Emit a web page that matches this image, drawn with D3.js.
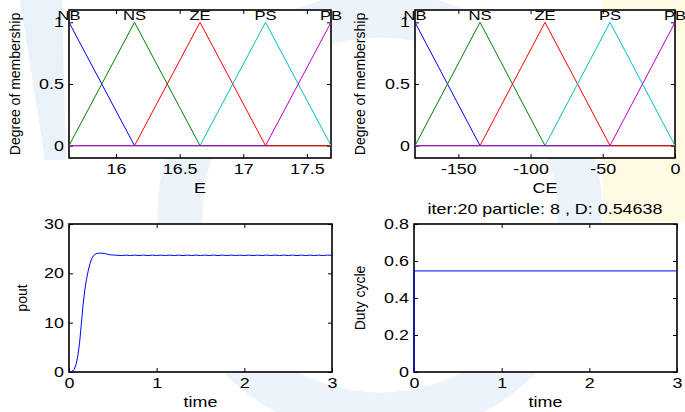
<!DOCTYPE html>
<html>
<head>
<meta charset="utf-8">
<script src="https://cdn.jsdelivr.net/npm/d3@7"></script>
<style>
body { margin: 0; background: #fff; }
svg text { font-family: "Liberation Sans", Arial, sans-serif; fill: #000; }
.axis text { font-size: 14px; }
.axis line { stroke: #000; }
</style>
</head>
<body>
<svg id="chart" width="685" height="412"></svg>
<script>
// ---- data ----
const termNames = ['NB', 'NS', 'ZE', 'PS', 'PB'];

// input E: range and triangle [a, b, c] of each term
const eRange = [15.63, 17.69];
const eTri = [
  [15.115, 15.63, 16.145],
  [15.63, 16.145, 16.66],
  [16.145, 16.66, 17.175],
  [16.66, 17.175, 17.69],
  [17.175, 17.69, 18.205]
];

// input CE
const ceRange = [-180, 0];
const ceTri = [
  [-225, -180, -135],
  [-180, -135, -90],
  [-135, -90, -45],
  [-90, -45, 0],
  [-45, 0, 45]
];

const eTicks = [16, 16.5, 17, 17.5];
const ceTicks = [-150, -100, -50, 0];
const mfTicks = [0, 0.5, 1];
const timeTicks = [0, 1, 2, 3];
const poutTicks = [0, 10, 20, 30];
const dutyTicks = [0, 0.2, 0.4, 0.6, 0.8];

// output power vs time
const poutTime = [0, 0.03, 0.06, 0.08, 0.10, 0.12, 0.14, 0.16, 0.18, 0.20,
  0.22, 0.24, 0.26, 0.28, 0.31, 0.35, 0.40, 0.43, 0.47, 0.52,
  0.60, 0.65, 0.70, 0.75, 0.80, 0.85, 0.90, 0.95, 1.00, 1.05,
  1.10, 1.15, 1.20, 1.25, 1.30, 1.35, 1.40, 1.45, 1.50, 1.55,
  1.60, 1.65, 1.70, 1.75, 1.80, 1.85, 1.90, 1.95, 2.00, 2.05,
  2.10, 2.15, 2.20, 2.25, 2.30, 2.35, 2.40, 2.45, 2.50, 2.55,
  2.60, 2.65, 2.70, 2.75, 2.80, 2.85, 2.90, 2.95, 3.00];
const poutVal = [0, 0.1, 0.5, 1.5, 3.2, 5.8, 9.6, 13.5, 16.6, 18.8,
  20.6, 22.0, 23.0, 23.6, 24.0, 24.1, 24.05, 23.9, 23.75, 23.7,
  23.6, 23.7, 23.6, 23.7, 23.6, 23.7, 23.6, 23.7, 23.6, 23.7,
  23.6, 23.7, 23.6, 23.7, 23.6, 23.7, 23.6, 23.7, 23.6, 23.7,
  23.6, 23.7, 23.6, 23.7, 23.6, 23.7, 23.6, 23.7, 23.6, 23.7,
  23.6, 23.7, 23.6, 23.7, 23.6, 23.7, 23.6, 23.7, 23.6, 23.7,
  23.6, 23.7, 23.6, 23.7, 23.6, 23.7, 23.6, 23.7, 23.65];

// duty cycle step
const dutyTime = [0, 0, 3];
const dutyVal = [0, 0.54638, 0.54638];
const dutyTitle = 'iter:20 particle: 8 , D: 0.54638';

// ---- drawing ----
const svg = d3.select('#chart');
const mfColors = ['#0000ff', '#008000', '#ff0000', '#00bfbf', '#bf00bf'];
const squash = 1.28; // matlab screen text is wide

// faint watermark behind the axes
const bg = svg.append('g');
bg.append('rect').attr('x', 603).attr('y', 0).attr('width', 82).attr('height', 222).attr('fill', '#fffbe3');
bg.append('circle').attr('cx', 380).attr('cy', 215).attr('r', 200)
  .attr('fill', 'none').attr('stroke', '#edf3fa').attr('stroke-width', 45);
bg.append('path').attr('d', 'M20,0 L62,0 L66,160 L45,160 Z').attr('fill', '#eaf2f9');

function wideText(g, x, y, str, size, anchor) {
  return g.append('text')
    .attr('transform', `translate(${x},${y}) scale(${squash},1)`)
    .attr('text-anchor', anchor || 'middle')
    .style('font-size', size + 'px')
    .text(str);
}

function vText(g, x, y, str) {
  return g.append('text')
    .attr('transform', `translate(${x},${y}) rotate(-90)`)
    .attr('text-anchor', 'middle')
    .style('font-size', '14px')
    .text(str);
}

function makePanel(box, xDom, yDom, xTicks, yTicks, xLabel, yLabel, yLabelX) {
  const g = svg.append('g');
  const x = d3.scaleLinear().domain(xDom).range([box.x0, box.x1]);
  const y = d3.scaleLinear().domain(yDom).range([box.y1, box.y0]);

  g.append('rect')
    .attr('x', box.x0).attr('y', box.y0)
    .attr('width', box.x1 - box.x0).attr('height', box.y1 - box.y0)
    .attr('fill', '#fff');

  const fmt = d => String(d); // plain hyphen minus like matlab
  const ax = g.append('g').attr('class', 'axis');
  ax.append('g').attr('transform', `translate(0,${box.y1})`)
    .call(d3.axisBottom(x).tickValues(xTicks).tickFormat(fmt).tickSizeInner(-4).tickSizeOuter(0).tickPadding(6));
  ax.append('g').attr('transform', `translate(0,${box.y0})`)
    .call(d3.axisTop(x).tickValues(xTicks).tickFormat('').tickSizeInner(-4).tickSizeOuter(0));
  ax.append('g').attr('transform', `translate(${box.x0},0)`)
    .call(d3.axisLeft(y).tickValues(yTicks).tickFormat(fmt).tickSizeInner(-4).tickSizeOuter(0).tickPadding(4));
  ax.append('g').attr('transform', `translate(${box.x1},0)`)
    .call(d3.axisRight(y).tickValues(yTicks).tickFormat('').tickSizeInner(-4).tickSizeOuter(0));
  ax.selectAll('.domain').remove();
  ax.selectAll('g').attr('font-size', null).attr('font-family', null);
  ax.selectAll('text').attr('transform', `scale(${squash},1)`);

  g.append('rect')
    .attr('x', box.x0).attr('y', box.y0)
    .attr('width', box.x1 - box.x0).attr('height', box.y1 - box.y0)
    .attr('fill', 'none').attr('stroke', '#000').attr('stroke-width', 1.6);

  wideText(g, (box.x0 + box.x1) / 2, box.y1 + 35, xLabel, 14);
  vText(g, yLabelX, (box.y0 + box.y1) / 2, yLabel);

  return { g, x, y };
}

function drawMf(p, tri, range) {
  const line = d3.line().x(d => p.x(d[0])).y(d => p.y(d[1]));
  const mu = (t, v) => Math.max(0, Math.min((v - t[0]) / (t[1] - t[0]), (t[2] - v) / (t[2] - t[1])));
  tri.forEach((t, i) => {
    const pts = [[range[0], mu(t, range[0])]];
    if (t[0] > range[0]) pts.push([t[0], 0]);
    if (t[1] > range[0] && t[1] < range[1]) pts.push([t[1], 1]);
    if (t[2] < range[1]) pts.push([t[2], 0]);
    pts.push([range[1], mu(t, range[1])]);
    p.g.append('path').attr('d', line(pts))
      .attr('fill', 'none').attr('stroke', mfColors[i]).attr('stroke-width', 1);
  });
  tri.forEach((t, i) => {
    wideText(p.g, p.x(t[1]), 19.5, termNames[i], 13);
  });
}

// top left: E membership
const pE = makePanel({ x0: 69, x1: 331, y0: 10, y1: 158 }, eRange, [-0.1, 1.1],
  eTicks, mfTicks, 'E', 'Degree of membership', 20);
drawMf(pE, eTri, eRange);

// top right: CE membership
const pCE = makePanel({ x0: 415, x1: 675, y0: 10, y1: 158 }, ceRange, [-0.1, 1.1],
  ceTicks, mfTicks, 'CE', 'Degree of membership', 365);
drawMf(pCE, ceTri, ceRange);

// bottom left: pout
const pP = makePanel({ x0: 69, x1: 332, y0: 224, y1: 372 }, [0, 3], [0, 30],
  timeTicks, poutTicks, 'time', 'pout', 27);
pP.g.append('path')
  .attr('d', d3.line().x((d, i) => pP.x(poutTime[i])).y(d => pP.y(d))(poutVal))
  .attr('fill', 'none').attr('stroke', '#0000ff').attr('stroke-width', 1);

// bottom right: duty cycle
const pD = makePanel({ x0: 414, x1: 677, y0: 224, y1: 372 }, [0, 3], [0, 0.8],
  timeTicks, dutyTicks, 'time', 'Duty cycle', 365);
pD.g.append('path')
  .attr('d', d3.line().x((d, i) => pD.x(dutyTime[i])).y(d => pD.y(d))(dutyVal))
  .attr('fill', 'none').attr('stroke', '#0000ff').attr('stroke-width', 1);
wideText(pD.g, 545, 214, dutyTitle, 14);
</script>
</body>
</html>
